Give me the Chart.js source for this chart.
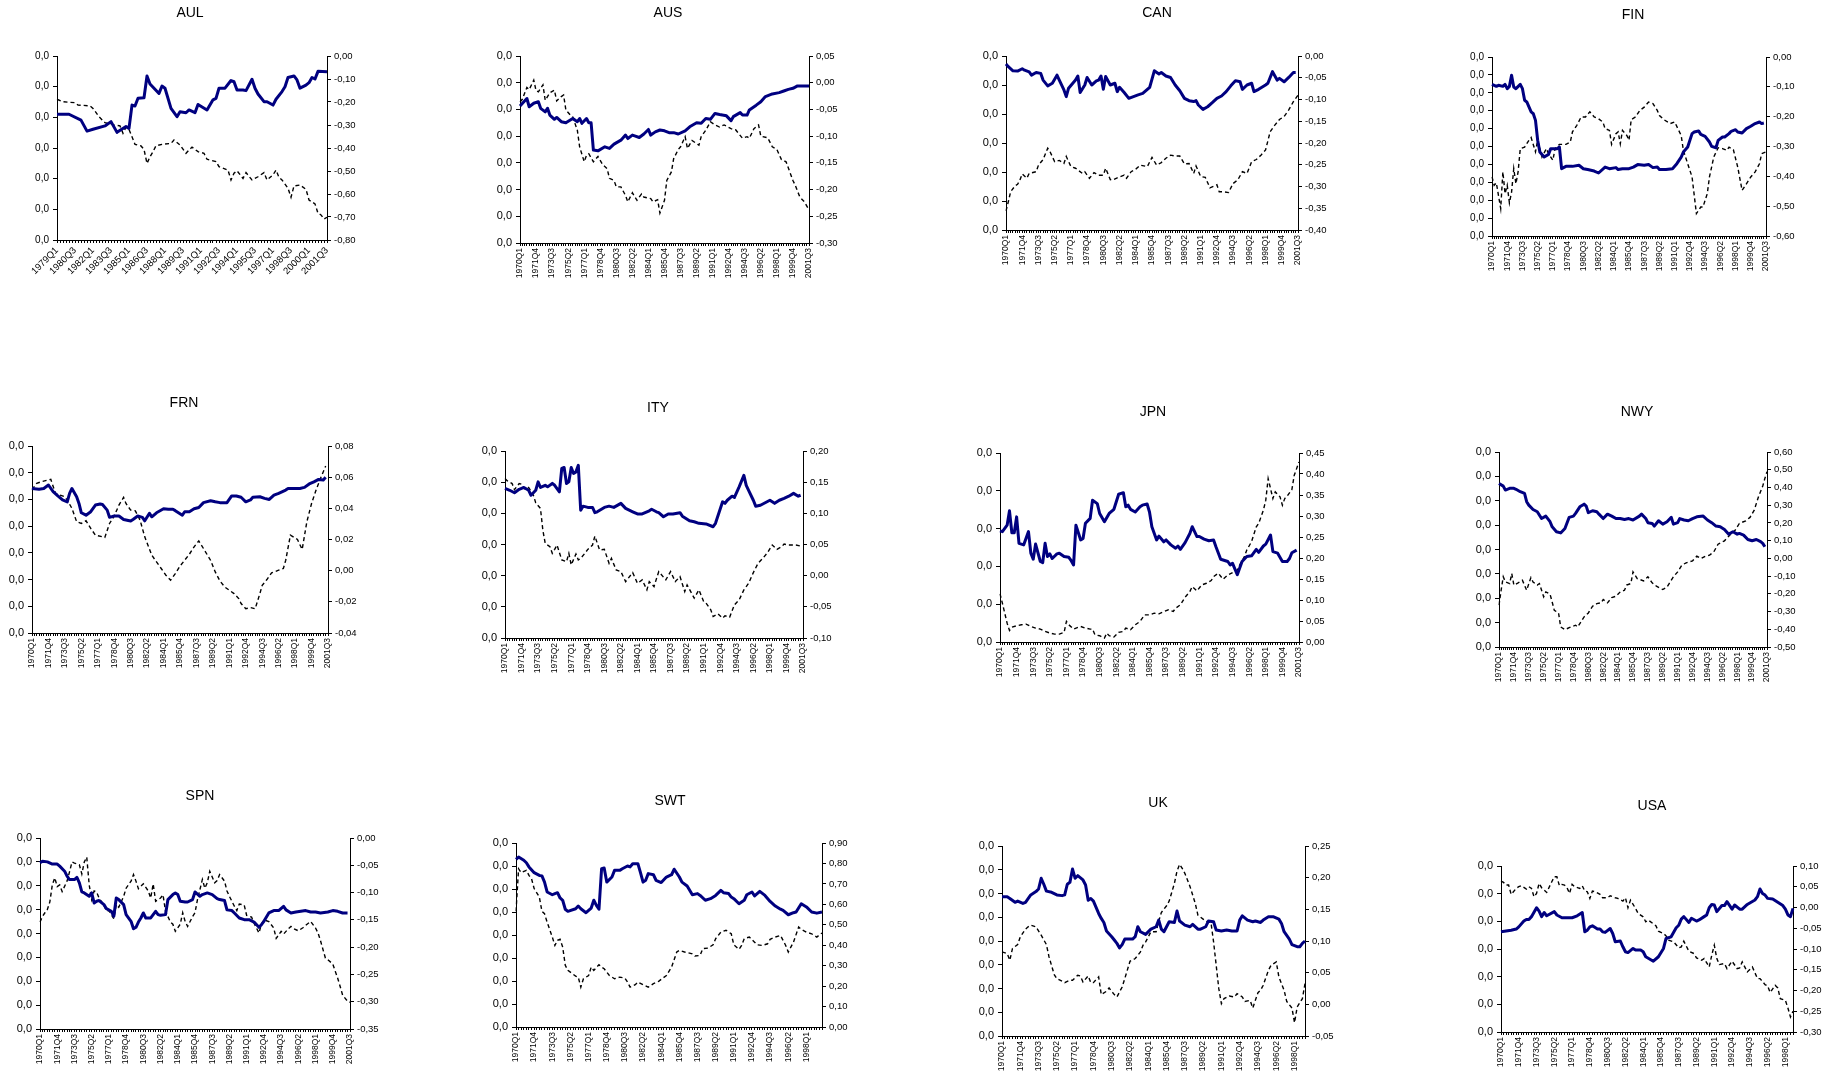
<!DOCTYPE html>
<html>
<head>
<meta charset="utf-8">
<script src="https://cdn.jsdelivr.net/npm/chart.js@4.4.1/dist/chart.umd.min.js"></script>
<style>
html,body{margin:0;padding:0;background:#fff;}
body{position:relative;width:1828px;height:1086px;overflow:hidden;}
canvas{position:absolute;}
</style>
</head>
<body>
<script>
// Each series is a list of [quarter offset from the panel's first quarter, value].
// Left (solid) series use the left axis, right (dashed) series the right axis.

const AUL_L = [[0,0.00410],[4,0.00410],[8,0.00391],[10,0.00355],[12,0.00361],[16,0.00372],[18,0.00386],[20,0.00351],[23,0.00370],[24,0.00364],[25,0.00440],[26,0.00437],[27,0.00462],[29,0.00464],[30,0.00535],[31,0.00509],[34,0.00478],[35,0.00502],[36,0.00495],[38,0.00429],[40,0.00402],[41,0.00418],[43,0.00415],[44,0.00424],[46,0.00415],[47,0.00442],[50,0.00424],[52,0.00457],[53,0.00462],[54,0.00495],[56,0.00495],[58,0.00520],[59,0.00516],[60,0.00489],[62,0.00489],[63,0.00487],[65,0.00524],[66,0.00495],[67,0.00476],[69,0.00451],[70,0.00451],[72,0.00440],[73,0.00459],[75,0.00484],[76,0.00500],[77,0.00530],[79,0.00535],[80,0.00522],[81,0.00495],[83,0.00505],[84,0.00513],[85,0.00530],[86,0.00525],[87,0.00550],[90,0.00549]];
const AUL_R = [[0,-0.188],[2,-0.199],[6,-0.203],[7,-0.213],[11,-0.217],[12,-0.228],[14,-0.264],[16,-0.290],[19,-0.300],[21,-0.304],[22,-0.336],[23,-0.310],[24,-0.319],[25,-0.351],[26,-0.384],[28,-0.391],[29,-0.406],[30,-0.467],[31,-0.438],[32,-0.416],[33,-0.390],[35,-0.384],[38,-0.380],[39,-0.365],[41,-0.387],[43,-0.423],[44,-0.409],[45,-0.396],[47,-0.416],[49,-0.423],[50,-0.449],[53,-0.459],[54,-0.481],[57,-0.496],[58,-0.539],[59,-0.510],[60,-0.499],[62,-0.532],[63,-0.507],[65,-0.539],[67,-0.525],[69,-0.507],[70,-0.539],[72,-0.517],[73,-0.496],[74,-0.528],[75,-0.539],[77,-0.575],[78,-0.614],[79,-0.565],[81,-0.561],[83,-0.580],[84,-0.626],[86,-0.643],[87,-0.684],[88,-0.691],[89,-0.709],[90,-0.701]];

const AUS_L = [[0,0.00513],[3,0.00541],[4,0.00510],[6,0.00523],[8,0.00529],[9,0.00504],[11,0.00491],[12,0.00504],[13,0.00479],[15,0.00463],[16,0.00470],[18,0.00454],[20,0.00450],[23,0.00466],[25,0.00454],[26,0.00466],[27,0.00448],[29,0.00466],[30,0.00450],[31,0.00450],[32,0.00348],[34,0.00345],[37,0.00360],[39,0.00354],[41,0.00370],[44,0.00385],[46,0.00404],[47,0.00391],[49,0.00404],[50,0.00401],[52,0.00395],[54,0.00408],[56,0.00425],[57,0.00404],[59,0.00416],[61,0.00423],[63,0.00420],[65,0.00413],[67,0.00413],[69,0.00408],[72,0.00420],[74,0.00435],[77,0.00450],[79,0.00448],[81,0.00466],[83,0.00463],[85,0.00485],[87,0.00481],[90,0.00476],[92,0.00458],[93,0.00473],[96,0.00488],[97,0.00479],[99,0.00479],[100,0.00498],[103,0.00516],[105,0.00529],[107,0.00548],[110,0.00558],[113,0.00563],[115,0.00569],[117,0.00575],[119,0.00579],[121,0.00588],[123,0.00588],[126,0.00588]];
const AUS_R = [[0,-0.036],[1,-0.031],[3,-0.009],[4,-0.013],[6,0.005],[7,-0.015],[8,-0.017],[10,-0.004],[11,-0.033],[13,-0.019],[15,-0.014],[16,-0.034],[18,-0.026],[19,-0.023],[20,-0.051],[22,-0.061],[23,-0.064],[25,-0.089],[26,-0.120],[28,-0.148],[29,-0.136],[30,-0.133],[32,-0.148],[34,-0.138],[36,-0.153],[38,-0.161],[39,-0.179],[41,-0.183],[42,-0.195],[44,-0.195],[46,-0.211],[47,-0.223],[49,-0.206],[51,-0.220],[53,-0.208],[54,-0.214],[57,-0.217],[58,-0.223],[60,-0.219],[61,-0.244],[63,-0.220],[64,-0.183],[66,-0.167],[67,-0.142],[69,-0.125],[70,-0.120],[72,-0.101],[73,-0.123],[75,-0.108],[78,-0.117],[79,-0.101],[81,-0.089],[83,-0.073],[85,-0.079],[87,-0.083],[89,-0.079],[92,-0.086],[94,-0.088],[97,-0.104],[99,-0.101],[100,-0.104],[102,-0.086],[104,-0.079],[105,-0.100],[108,-0.103],[110,-0.120],[112,-0.125],[114,-0.144],[116,-0.148],[119,-0.183],[120,-0.192],[122,-0.214],[124,-0.223],[126,-0.238]];

const CAN_L = [[0,0.00572],[1,0.00563],[3,0.00549],[5,0.00548],[7,0.00556],[8,0.00551],[10,0.00545],[11,0.00534],[13,0.00543],[15,0.00540],[16,0.00517],[18,0.00497],[20,0.00506],[22,0.00534],[23,0.00517],[25,0.00483],[26,0.00460],[27,0.00489],[29,0.00508],[30,0.00517],[31,0.00531],[32,0.00474],[34,0.00500],[35,0.00526],[37,0.00500],[39,0.00514],[40,0.00517],[41,0.00531],[42,0.00485],[43,0.00529],[45,0.00500],[47,0.00506],[48,0.00477],[49,0.00492],[51,0.00474],[53,0.00454],[55,0.00460],[57,0.00466],[59,0.00471],[61,0.00485],[62,0.00492],[64,0.00549],[66,0.00538],[67,0.00543],[69,0.00531],[71,0.00526],[73,0.00500],[75,0.00480],[77,0.00454],[79,0.00446],[81,0.00443],[82,0.00446],[83,0.00431],[85,0.00416],[87,0.00425],[89,0.00439],[91,0.00454],[93,0.00462],[95,0.00477],[97,0.00497],[99,0.00515],[101,0.00511],[102,0.00485],[104,0.00500],[106,0.00506],[107,0.00477],[109,0.00485],[112,0.00500],[113,0.00506],[115,0.00546],[117,0.00517],[118,0.00523],[120,0.00511],[122,0.00526],[124,0.00543],[125,0.00543]];
const CAN_R = [[0,-0.356],[1,-0.335],[2,-0.312],[4,-0.298],[5,-0.295],[6,-0.285],[7,-0.271],[9,-0.281],[10,-0.270],[13,-0.266],[14,-0.251],[16,-0.238],[18,-0.212],[19,-0.220],[21,-0.243],[23,-0.240],[25,-0.247],[26,-0.231],[28,-0.254],[30,-0.258],[33,-0.270],[34,-0.266],[36,-0.281],[38,-0.268],[40,-0.274],[42,-0.274],[43,-0.258],[45,-0.284],[46,-0.285],[48,-0.280],[51,-0.274],[52,-0.281],[54,-0.266],[56,-0.260],[58,-0.251],[61,-0.254],[63,-0.233],[65,-0.251],[67,-0.245],[69,-0.235],[71,-0.228],[73,-0.230],[75,-0.230],[77,-0.248],[79,-0.247],[81,-0.270],[82,-0.253],[84,-0.277],[86,-0.279],[88,-0.303],[91,-0.296],[92,-0.312],[94,-0.312],[96,-0.314],[98,-0.293],[100,-0.285],[102,-0.266],[104,-0.270],[106,-0.243],[108,-0.238],[110,-0.228],[112,-0.216],[114,-0.174],[116,-0.159],[118,-0.146],[120,-0.139],[122,-0.124],[124,-0.105],[126,-0.090]];

const FIN_L = [[0,0.00847],[2,0.00836],[3,0.00842],[5,0.00836],[6,0.00847],[7,0.00823],[8,0.00836],[9,0.00898],[10,0.00832],[11,0.00823],[13,0.00847],[14,0.00823],[15,0.00758],[16,0.00749],[18,0.00693],[19,0.00683],[20,0.00646],[21,0.00535],[22,0.00469],[24,0.00441],[26,0.00456],[27,0.00488],[30,0.00488],[31,0.00497],[32,0.00376],[34,0.00389],[37,0.00389],[40,0.00395],[42,0.00376],[44,0.00371],[47,0.00363],[49,0.00352],[52,0.00385],[54,0.00376],[57,0.00382],[58,0.00371],[60,0.00376],[63,0.00376],[65,0.00385],[67,0.00399],[70,0.00395],[72,0.00399],[74,0.00382],[76,0.00385],[77,0.00371],[80,0.00371],[83,0.00376],[85,0.00404],[87,0.00441],[88,0.00469],[90,0.00497],[92,0.00572],[93,0.00581],[95,0.00587],[96,0.00568],[98,0.00557],[100,0.00525],[101,0.00501],[103,0.00493],[104,0.00534],[106,0.00553],[107,0.00553],[109,0.00572],[110,0.00585],[112,0.00594],[113,0.00581],[115,0.00575],[117,0.00600],[119,0.00613],[121,0.00628],[123,0.00637],[124,0.00628],[125,0.00631]];
const FIN_R = [[0,-0.402],[1,-0.430],[2,-0.422],[4,-0.508],[5,-0.385],[6,-0.458],[7,-0.430],[8,-0.489],[9,-0.453],[10,-0.374],[11,-0.425],[12,-0.385],[13,-0.307],[15,-0.302],[17,-0.279],[18,-0.270],[20,-0.318],[21,-0.279],[23,-0.335],[25,-0.307],[26,-0.324],[28,-0.346],[29,-0.307],[31,-0.293],[34,-0.293],[36,-0.285],[37,-0.251],[39,-0.229],[41,-0.201],[43,-0.201],[45,-0.184],[47,-0.201],[49,-0.207],[51,-0.218],[52,-0.240],[54,-0.246],[55,-0.293],[57,-0.257],[58,-0.251],[59,-0.291],[60,-0.246],[62,-0.263],[63,-0.279],[64,-0.210],[66,-0.201],[68,-0.179],[70,-0.168],[72,-0.151],[74,-0.156],[76,-0.179],[77,-0.196],[79,-0.210],[82,-0.223],[84,-0.218],[87,-0.263],[88,-0.313],[90,-0.358],[92,-0.402],[93,-0.464],[94,-0.525],[96,-0.503],[97,-0.503],[99,-0.458],[100,-0.402],[102,-0.335],[104,-0.304],[106,-0.307],[108,-0.313],[109,-0.302],[111,-0.311],[113,-0.369],[115,-0.447],[117,-0.425],[119,-0.402],[121,-0.385],[123,-0.358],[124,-0.324],[126,-0.318]];

const FRN_L = [[0,0.00541],[3,0.00538],[5,0.00541],[7,0.00554],[9,0.00529],[11,0.00513],[13,0.00498],[15,0.00491],[16,0.00523],[17,0.00541],[19,0.00510],[20,0.00485],[21,0.00450],[23,0.00441],[25,0.00454],[27,0.00479],[29,0.00483],[30,0.00481],[32,0.00460],[33,0.00433],[35,0.00438],[37,0.00438],[39,0.00425],[42,0.00419],[43,0.00425],[45,0.00438],[47,0.00433],[48,0.00420],[50,0.00448],[51,0.00435],[53,0.00450],[56,0.00465],[58,0.00463],[60,0.00463],[61,0.00458],[64,0.00441],[65,0.00454],[67,0.00454],[69,0.00465],[71,0.00470],[73,0.00488],[76,0.00495],[78,0.00491],[80,0.00488],[83,0.00488],[85,0.00513],[87,0.00513],[89,0.00508],[91,0.00491],[93,0.00498],[94,0.00508],[97,0.00510],[99,0.00504],[101,0.00500],[103,0.00516],[105,0.00523],[108,0.00535],[109,0.00541],[111,0.00541],[114,0.00541],[116,0.00545],[118,0.00558],[120,0.00566],[122,0.00575],[124,0.00573],[125,0.00583]];
const FRN_R = [[0,0.0521],[2,0.0560],[4,0.0571],[8,0.0586],[10,0.0496],[12,0.0485],[14,0.0474],[15,0.0453],[17,0.0400],[19,0.0314],[21,0.0303],[23,0.0320],[25,0.0271],[27,0.0228],[30,0.0217],[31,0.0213],[33,0.0303],[35,0.0350],[37,0.0421],[39,0.0470],[40,0.0431],[42,0.0389],[44,0.0384],[46,0.0324],[48,0.0217],[51,0.0099],[53,0.0056],[55,0.0014],[57,-0.0029],[59,-0.0061],[61,-0.0019],[63,0.0029],[65,0.0067],[67,0.0106],[69,0.0153],[71,0.0191],[73,0.0142],[76,0.0067],[78,-0.0008],[80,-0.0066],[82,-0.0104],[84,-0.0126],[86,-0.0147],[88,-0.0179],[89,-0.0211],[91,-0.0244],[93,-0.0237],[95,-0.0244],[97,-0.0147],[98,-0.0094],[100,-0.0057],[102,-0.0014],[105,0.0003],[107,0.0014],[108,0.0067],[110,0.0228],[113,0.0200],[115,0.0136],[117,0.0314],[119,0.0431],[121,0.0521],[123,0.0599],[125,0.0671]];

const ITY_L = [[0,0.00480],[2,0.00474],[4,0.00466],[6,0.00477],[8,0.00483],[10,0.00474],[11,0.00458],[13,0.00474],[14,0.00501],[15,0.00483],[17,0.00490],[18,0.00485],[20,0.00496],[21,0.00490],[23,0.00469],[24,0.00544],[25,0.00547],[26,0.00496],[27,0.00501],[28,0.00547],[29,0.00528],[30,0.00533],[31,0.00554],[32,0.00410],[33,0.00423],[35,0.00419],[37,0.00419],[38,0.00402],[39,0.00405],[42,0.00419],[44,0.00423],[46,0.00419],[49,0.00432],[51,0.00416],[54,0.00405],[56,0.00398],[58,0.00398],[61,0.00408],[62,0.00413],[64,0.00405],[65,0.00402],[67,0.00389],[69,0.00398],[71,0.00398],[74,0.00402],[75,0.00391],[78,0.00376],[80,0.00373],[82,0.00368],[85,0.00366],[88,0.00357],[89,0.00368],[92,0.00437],[93,0.00432],[94,0.00442],[96,0.00455],[97,0.00451],[99,0.00485],[101,0.00522],[102,0.00490],[103,0.00474],[105,0.00442],[106,0.00423],[108,0.00426],[110,0.00434],[112,0.00442],[114,0.00432],[116,0.00442],[118,0.00448],[120,0.00455],[122,0.00464],[124,0.00455],[125,0.00458]];
const ITY_R = [[0,0.1558],[1,0.1520],[3,0.1478],[4,0.1382],[6,0.1478],[7,0.1467],[8,0.1398],[9,0.1382],[10,0.1414],[12,0.1291],[13,0.1168],[15,0.1078],[16,0.0731],[17,0.0518],[19,0.0465],[20,0.0358],[21,0.0422],[22,0.0491],[24,0.0252],[26,0.0225],[27,0.0358],[28,0.0172],[30,0.0348],[31,0.0252],[32,0.0278],[34,0.0369],[35,0.0422],[37,0.0491],[38,0.0635],[40,0.0412],[42,0.0422],[44,0.0198],[45,0.0278],[47,0.0092],[49,0.0065],[51,-0.0095],[54,0.0049],[56,-0.0122],[58,-0.0068],[60,-0.0228],[61,-0.0095],[63,-0.0175],[65,0.0065],[68,-0.0068],[70,0.0065],[72,-0.0095],[74,-0.0015],[76,-0.0255],[77,-0.0148],[80,-0.0361],[82,-0.0228],[84,-0.0415],[85,-0.0441],[87,-0.0548],[88,-0.0655],[90,-0.0612],[92,-0.0681],[93,-0.0644],[95,-0.0665],[97,-0.0468],[99,-0.0388],[101,-0.0228],[103,-0.0122],[105,0.0049],[107,0.0198],[109,0.0278],[111,0.0369],[113,0.0491],[115,0.0422],[117,0.0465],[118,0.0507],[120,0.0491],[123,0.0491],[125,0.0475]];

const JPN_L = [[0,0.00294],[1,0.00292],[3,0.00309],[4,0.00347],[5,0.00289],[6,0.00289],[7,0.00331],[8,0.00261],[10,0.00257],[12,0.00292],[13,0.00235],[14,0.00219],[15,0.00259],[17,0.00213],[18,0.00210],[19,0.00261],[20,0.00226],[21,0.00233],[22,0.00221],[24,0.00233],[25,0.00235],[27,0.00226],[29,0.00224],[30,0.00215],[31,0.00204],[32,0.00309],[34,0.00270],[35,0.00274],[36,0.00314],[38,0.00327],[39,0.00375],[41,0.00366],[42,0.00340],[44,0.00318],[46,0.00340],[48,0.00351],[49,0.00371],[50,0.00391],[52,0.00395],[53,0.00358],[54,0.00362],[55,0.00351],[57,0.00344],[59,0.00358],[60,0.00362],[62,0.00365],[63,0.00344],[64,0.00305],[66,0.00270],[67,0.00280],[69,0.00265],[70,0.00270],[72,0.00257],[74,0.00248],[75,0.00254],[76,0.00245],[78,0.00263],[80,0.00287],[81,0.00305],[83,0.00279],[84,0.00279],[86,0.00272],[88,0.00268],[90,0.00270],[91,0.00252],[93,0.00219],[95,0.00215],[96,0.00213],[97,0.00204],[98,0.00208],[100,0.00178],[102,0.00213],[104,0.00226],[106,0.00228],[108,0.00245],[109,0.00237],[111,0.00254],[112,0.00259],[114,0.00283],[115,0.00239],[117,0.00235],[119,0.00213],[121,0.00213],[122,0.00221],[123,0.00236],[125,0.00243]];
const JPN_R = [[0,0.1146],[1,0.0924],[3,0.0449],[4,0.0275],[5,0.0354],[7,0.0386],[9,0.0410],[11,0.0426],[13,0.0370],[15,0.0331],[17,0.0307],[19,0.0252],[21,0.0212],[23,0.0188],[25,0.0188],[27,0.0228],[28,0.0489],[29,0.0410],[31,0.0307],[33,0.0354],[34,0.0370],[36,0.0331],[38,0.0307],[39,0.0307],[40,0.0172],[42,0.0149],[44,0.0093],[45,0.0212],[46,0.0149],[48,0.0117],[50,0.0228],[52,0.0252],[53,0.0331],[55,0.0291],[57,0.0410],[59,0.0489],[61,0.0647],[63,0.0647],[65,0.0687],[67,0.0671],[69,0.0726],[71,0.0766],[73,0.0726],[74,0.0805],[76,0.0884],[78,0.1066],[80,0.1201],[81,0.1320],[83,0.1217],[85,0.1359],[87,0.1399],[89,0.1462],[90,0.1557],[92,0.1636],[94,0.1494],[96,0.1597],[98,0.1652],[100,0.1715],[101,0.1834],[103,0.2032],[104,0.2190],[106,0.2388],[108,0.2744],[109,0.2823],[111,0.3139],[112,0.3377],[113,0.3891],[114,0.3653],[115,0.3416],[116,0.3574],[118,0.3456],[119,0.3258],[120,0.3416],[121,0.3472],[123,0.3630],[124,0.3970],[126,0.4286]];

const NWY_L = [[0,0.00671],[2,0.00660],[3,0.00644],[5,0.00651],[7,0.00651],[8,0.00647],[10,0.00637],[12,0.00630],[13,0.00596],[14,0.00582],[16,0.00564],[18,0.00555],[20,0.00527],[22,0.00537],[24,0.00514],[25,0.00493],[27,0.00473],[29,0.00468],[31,0.00486],[33,0.00532],[35,0.00537],[36,0.00548],[38,0.00575],[40,0.00586],[41,0.00578],[42,0.00551],[44,0.00559],[46,0.00555],[47,0.00545],[49,0.00527],[51,0.00545],[53,0.00537],[55,0.00527],[57,0.00527],[59,0.00523],[61,0.00527],[63,0.00521],[66,0.00537],[67,0.00545],[69,0.00527],[70,0.00510],[72,0.00507],[73,0.00496],[75,0.00518],[77,0.00504],[79,0.00514],[81,0.00532],[82,0.00504],[84,0.00510],[85,0.00527],[87,0.00521],[89,0.00518],[91,0.00527],[93,0.00534],[96,0.00537],[98,0.00521],[100,0.00510],[102,0.00496],[104,0.00493],[106,0.00482],[108,0.00463],[110,0.00473],[112,0.00463],[113,0.00466],[115,0.00459],[117,0.00441],[119,0.00436],[121,0.00441],[123,0.00432],[124,0.00425],[125,0.00411]];
const NWY_R = [[0,-0.264],[1,-0.180],[2,-0.104],[3,-0.133],[5,-0.142],[6,-0.086],[7,-0.151],[9,-0.138],[11,-0.123],[13,-0.180],[15,-0.108],[16,-0.133],[18,-0.151],[19,-0.142],[21,-0.217],[22,-0.189],[24,-0.202],[25,-0.246],[26,-0.293],[28,-0.308],[29,-0.387],[31,-0.402],[33,-0.391],[36,-0.377],[37,-0.387],[38,-0.368],[40,-0.330],[42,-0.308],[44,-0.270],[46,-0.255],[48,-0.251],[49,-0.232],[51,-0.251],[53,-0.221],[55,-0.214],[57,-0.189],[59,-0.180],[60,-0.151],[62,-0.142],[63,-0.076],[65,-0.114],[68,-0.127],[70,-0.104],[72,-0.138],[74,-0.157],[77,-0.176],[79,-0.161],[80,-0.142],[82,-0.104],[84,-0.076],[86,-0.038],[88,-0.025],[91,-0.014],[93,0.012],[95,-0.001],[97,0.012],[99,0.018],[101,0.037],[103,0.080],[106,0.099],[107,0.112],[109,0.137],[111,0.159],[113,0.197],[116,0.212],[118,0.231],[120,0.272],[122,0.348],[124,0.408],[125,0.451],[126,0.489]];

const SPN_L = [[0,0.00696],[1,0.00703],[3,0.00700],[5,0.00691],[7,0.00691],[8,0.00682],[10,0.00661],[11,0.00640],[12,0.00626],[14,0.00626],[15,0.00635],[16,0.00612],[17,0.00574],[18,0.00570],[20,0.00556],[21,0.00570],[22,0.00528],[23,0.00535],[24,0.00538],[26,0.00521],[27,0.00504],[29,0.00493],[30,0.00472],[31,0.00549],[32,0.00542],[34,0.00521],[35,0.00479],[37,0.00451],[38,0.00420],[39,0.00426],[40,0.00448],[41,0.00465],[42,0.00486],[43,0.00465],[45,0.00465],[47,0.00493],[48,0.00479],[49,0.00476],[51,0.00479],[52,0.00542],[54,0.00563],[55,0.00570],[56,0.00563],[57,0.00535],[59,0.00532],[60,0.00532],[62,0.00542],[63,0.00574],[65,0.00556],[66,0.00563],[68,0.00570],[70,0.00563],[72,0.00546],[73,0.00542],[75,0.00538],[76,0.00499],[78,0.00496],[79,0.00486],[81,0.00465],[83,0.00458],[85,0.00458],[87,0.00448],[89,0.00426],[90,0.00437],[91,0.00451],[93,0.00486],[95,0.00496],[97,0.00496],[99,0.00514],[100,0.00499],[102,0.00486],[104,0.00490],[106,0.00493],[108,0.00496],[110,0.00490],[112,0.00490],[114,0.00486],[117,0.00490],[119,0.00496],[121,0.00493],[123,0.00486],[125,0.00486]];
const SPN_R = [[0,-0.154],[1,-0.144],[2,-0.137],[3,-0.131],[4,-0.117],[5,-0.086],[6,-0.073],[7,-0.089],[8,-0.086],[9,-0.098],[11,-0.079],[12,-0.062],[13,-0.044],[14,-0.046],[16,-0.049],[17,-0.066],[18,-0.044],[19,-0.035],[20,-0.086],[21,-0.113],[22,-0.097],[23,-0.099],[24,-0.110],[26,-0.123],[27,-0.134],[28,-0.133],[30,-0.148],[31,-0.122],[32,-0.127],[34,-0.107],[35,-0.092],[37,-0.079],[38,-0.067],[39,-0.079],[40,-0.093],[42,-0.084],[44,-0.097],[45,-0.110],[46,-0.084],[47,-0.116],[49,-0.110],[50,-0.104],[51,-0.134],[53,-0.154],[54,-0.158],[55,-0.171],[57,-0.158],[58,-0.137],[59,-0.153],[60,-0.162],[62,-0.144],[63,-0.137],[64,-0.113],[66,-0.076],[67,-0.092],[68,-0.082],[69,-0.061],[71,-0.082],[72,-0.078],[73,-0.067],[75,-0.079],[76,-0.097],[77,-0.107],[79,-0.125],[80,-0.133],[81,-0.121],[83,-0.123],[84,-0.142],[86,-0.145],[87,-0.156],[89,-0.174],[90,-0.158],[91,-0.150],[93,-0.153],[95,-0.165],[96,-0.184],[98,-0.171],[99,-0.176],[101,-0.166],[102,-0.162],[103,-0.166],[105,-0.170],[107,-0.164],[108,-0.160],[110,-0.153],[112,-0.165],[113,-0.174],[114,-0.188],[116,-0.220],[117,-0.223],[119,-0.231],[121,-0.257],[122,-0.272],[123,-0.288],[125,-0.299],[126,-0.301]];

const SWT_L = [[0,0.00729],[1,0.00739],[3,0.00725],[4,0.00714],[5,0.00696],[7,0.00671],[9,0.00659],[10,0.00657],[11,0.00630],[12,0.00587],[14,0.00575],[15,0.00580],[16,0.00584],[17,0.00561],[18,0.00551],[19,0.00512],[20,0.00503],[23,0.00514],[24,0.00526],[25,0.00514],[27,0.00497],[28,0.00507],[29,0.00517],[30,0.00551],[31,0.00529],[32,0.00512],[33,0.00688],[34,0.00691],[35,0.00630],[37,0.00652],[38,0.00681],[40,0.00681],[41,0.00688],[43,0.00700],[44,0.00696],[45,0.00710],[47,0.00710],[48,0.00671],[49,0.00630],[50,0.00638],[51,0.00667],[53,0.00662],[54,0.00638],[56,0.00628],[58,0.00652],[59,0.00657],[60,0.00662],[61,0.00686],[63,0.00652],[64,0.00630],[66,0.00613],[68,0.00575],[70,0.00580],[71,0.00572],[73,0.00551],[75,0.00558],[77,0.00572],[79,0.00594],[80,0.00584],[82,0.00580],[83,0.00565],[84,0.00558],[86,0.00536],[88,0.00551],[89,0.00575],[91,0.00587],[92,0.00570],[94,0.00590],[96,0.00572],[98,0.00546],[100,0.00526],[102,0.00512],[103,0.00507],[105,0.00488],[107,0.00497],[108,0.00500],[110,0.00536],[112,0.00522],[114,0.00500],[116,0.00495],[118,0.00500]];
const SWT_R = [[0,0.566],[1,0.774],[2,0.755],[4,0.766],[5,0.742],[6,0.725],[7,0.677],[9,0.636],[10,0.566],[11,0.554],[12,0.513],[14,0.440],[15,0.399],[16,0.424],[17,0.429],[18,0.391],[19,0.302],[20,0.277],[23,0.249],[24,0.244],[25,0.195],[26,0.236],[28,0.252],[29,0.293],[30,0.277],[32,0.305],[33,0.293],[34,0.285],[36,0.252],[37,0.244],[38,0.236],[40,0.244],[42,0.239],[43,0.220],[44,0.195],[46,0.207],[47,0.220],[49,0.207],[51,0.195],[53,0.212],[55,0.223],[56,0.233],[58,0.252],[60,0.293],[62,0.367],[63,0.375],[65,0.367],[68,0.358],[69,0.347],[71,0.350],[72,0.383],[74,0.386],[76,0.402],[77,0.432],[79,0.464],[81,0.473],[83,0.456],[84,0.402],[86,0.380],[87,0.399],[88,0.432],[90,0.440],[92,0.415],[93,0.402],[95,0.399],[97,0.407],[98,0.429],[100,0.440],[102,0.448],[104,0.399],[105,0.367],[107,0.415],[109,0.489],[110,0.477],[112,0.464],[114,0.456],[116,0.440],[118,0.460]];

const UK_L = [[0,0.00586],[2,0.00586],[3,0.00579],[5,0.00563],[6,0.00568],[8,0.00558],[9,0.00563],[11,0.00594],[13,0.00608],[14,0.00619],[15,0.00664],[16,0.00639],[17,0.00610],[19,0.00605],[21,0.00594],[23,0.00591],[24,0.00594],[25,0.00639],[26,0.00647],[27,0.00703],[28,0.00664],[29,0.00675],[31,0.00657],[32,0.00636],[33,0.00572],[34,0.00579],[35,0.00568],[37,0.00516],[38,0.00495],[39,0.00478],[40,0.00442],[42,0.00418],[43,0.00404],[44,0.00390],[45,0.00371],[46,0.00385],[47,0.00408],[48,0.00408],[50,0.00408],[51,0.00418],[52,0.00460],[53,0.00439],[55,0.00428],[57,0.00450],[59,0.00460],[60,0.00488],[61,0.00450],[62,0.00439],[64,0.00481],[66,0.00478],[67,0.00526],[68,0.00484],[70,0.00467],[72,0.00460],[73,0.00470],[75,0.00450],[76,0.00450],[78,0.00460],[79,0.00484],[81,0.00481],[82,0.00446],[84,0.00442],[86,0.00446],[88,0.00442],[90,0.00442],[91,0.00488],[92,0.00506],[94,0.00488],[96,0.00481],[97,0.00484],[99,0.00478],[100,0.00488],[102,0.00502],[104,0.00502],[106,0.00492],[107,0.00474],[108,0.00439],[110,0.00408],[111,0.00385],[113,0.00376],[114,0.00376],[115,0.00390],[116,0.00400]];
const UK_R = [[0,0.0828],[2,0.0802],[3,0.0696],[4,0.0881],[6,0.0944],[7,0.1065],[9,0.1187],[10,0.1224],[11,0.1250],[13,0.1224],[15,0.1092],[17,0.0944],[18,0.0749],[20,0.0469],[21,0.0406],[23,0.0364],[24,0.0343],[26,0.0380],[27,0.0380],[29,0.0459],[30,0.0448],[31,0.0353],[33,0.0448],[34,0.0343],[35,0.0343],[37,0.0433],[38,0.0153],[40,0.0206],[41,0.0258],[43,0.0153],[44,0.0116],[46,0.0274],[47,0.0406],[49,0.0680],[51,0.0723],[53,0.0828],[54,0.0934],[55,0.0986],[57,0.1145],[59,0.1145],[60,0.1313],[61,0.1450],[63,0.1556],[64,0.1630],[66,0.1909],[67,0.2104],[68,0.2210],[69,0.2147],[70,0.2068],[72,0.1857],[74,0.1593],[75,0.1408],[77,0.1345],[78,0.1313],[80,0.1292],[81,0.0986],[82,0.0617],[83,0.0248],[84,0.0011],[85,0.0090],[87,0.0132],[89,0.0116],[90,0.0169],[92,0.0116],[93,0.0047],[95,0.0063],[96,-0.0058],[98,0.0185],[99,0.0222],[100,0.0301],[102,0.0538],[103,0.0617],[105,0.0670],[106,0.0433],[108,0.0222],[109,0.0047],[111,-0.0058],[112,-0.0290],[113,-0.0042],[115,0.0090],[116,0.0327]];

const USA_L = [[0,0.00362],[2,0.00365],[4,0.00368],[6,0.00372],[7,0.00380],[9,0.00401],[10,0.00407],[11,0.00407],[12,0.00417],[14,0.00449],[15,0.00437],[16,0.00417],[17,0.00432],[18,0.00420],[21,0.00435],[22,0.00423],[24,0.00413],[26,0.00413],[28,0.00413],[30,0.00420],[32,0.00432],[33,0.00362],[34,0.00368],[35,0.00380],[36,0.00384],[38,0.00372],[39,0.00372],[40,0.00362],[41,0.00360],[43,0.00374],[44,0.00356],[45,0.00326],[47,0.00329],[48,0.00308],[49,0.00290],[50,0.00287],[52,0.00302],[53,0.00296],[55,0.00296],[56,0.00290],[57,0.00272],[60,0.00256],[62,0.00272],[64,0.00302],[65,0.00338],[67,0.00344],[69,0.00377],[70,0.00386],[71,0.00408],[72,0.00417],[74,0.00396],[75,0.00411],[77,0.00401],[78,0.00405],[80,0.00417],[81,0.00423],[82,0.00449],[83,0.00461],[84,0.00459],[85,0.00435],[87,0.00457],[88,0.00457],[89,0.00471],[91,0.00444],[92,0.00459],[94,0.00444],[95,0.00444],[97,0.00461],[100,0.00477],[101,0.00489],[102,0.00517],[103,0.00501],[104,0.00495],[105,0.00483],[107,0.00481],[109,0.00469],[111,0.00457],[112,0.00444],[113,0.00423],[114,0.00417],[115,0.00447]];
const USA_R = [[0,0.0638],[1,0.0605],[2,0.0541],[3,0.0541],[4,0.0316],[6,0.0461],[7,0.0501],[8,0.0525],[10,0.0444],[11,0.0501],[12,0.0461],[13,0.0259],[14,0.0340],[15,0.0581],[16,0.0477],[18,0.0364],[20,0.0622],[21,0.0742],[22,0.0742],[23,0.0525],[24,0.0557],[25,0.0541],[26,0.0477],[27,0.0340],[28,0.0557],[29,0.0501],[31,0.0461],[32,0.0525],[33,0.0396],[34,0.0380],[35,0.0219],[36,0.0396],[37,0.0380],[39,0.0316],[40,0.0235],[42,0.0235],[43,0.0283],[45,0.0235],[46,0.0219],[48,0.0155],[49,0.0235],[50,-0.0006],[51,0.0179],[53,-0.0023],[54,-0.0143],[56,-0.0224],[57,-0.0345],[58,-0.0304],[61,-0.0441],[62,-0.0570],[64,-0.0626],[65,-0.0683],[66,-0.0787],[68,-0.0828],[70,-0.0973],[71,-0.0948],[72,-0.0812],[74,-0.1053],[76,-0.1110],[77,-0.1214],[79,-0.1271],[80,-0.1230],[82,-0.1432],[83,-0.1150],[84,-0.0908],[85,-0.1230],[86,-0.1375],[88,-0.1351],[89,-0.1472],[91,-0.1295],[93,-0.1472],[94,-0.1456],[95,-0.1311],[97,-0.1552],[99,-0.1432],[101,-0.1713],[102,-0.1713],[104,-0.1858],[105,-0.1890],[106,-0.2050],[108,-0.1874],[109,-0.1939],[110,-0.2196],[112,-0.2237],[113,-0.2422],[114,-0.2639],[115,-0.2502]];

// Quarter categories per panel: first year, first quarter, number of quarters, label spacing
const AUL_Q = [1979, 1, 91, 6];
const STD_Q = [1970, 1, 127, 7];
const SWT_Q = [1970, 1, 119, 7];
const UK_Q  = [1970, 1, 117, 7];
const USA_Q = [1970, 1, 116, 7];

// Left axis: ticks every 0.001 from 0 (shown with one decimal); right axis: [min, max, step]
const LEFT_STEP = 0.001;

const PANELS = [
  {title:'AUL', q:AUL_Q, L:AUL_L, R:AUL_R, nL:6,  rAx:[-0.80,0.00,0.10], box:[57,56,327,240],    tp:[190,13],  rot:45, xf:9.5, lf:10},
  {title:'AUS', q:STD_Q, L:AUS_L, R:AUS_R, nL:7,  rAx:[-0.30,0.05,0.05], box:[520,56,809,243],   tp:[668,13],  rot:90, xf:8.5, lf:11},
  {title:'CAN', q:STD_Q, L:CAN_L, R:CAN_R, nL:6,  rAx:[-0.40,0.00,0.05], box:[1006,56,1298,230], tp:[1157,13], rot:90, xf:8.5, lf:11},
  {title:'FIN', q:STD_Q, L:FIN_L, R:FIN_R, nL:10, rAx:[-0.60,0.00,0.10], box:[1492,57,1766,236], tp:[1633,15], rot:90, xf:8.5, lf:10},
  {title:'FRN', q:STD_Q, L:FRN_L, R:FRN_R, nL:7,  rAx:[-0.04,0.08,0.02], box:[32,446,328,633],   tp:[184,403], rot:90, xf:8.5, lf:11},
  {title:'ITY', q:STD_Q, L:ITY_L, R:ITY_R, nL:6,  rAx:[-0.10,0.20,0.05], box:[505,451,803,638],  tp:[658,408], rot:90, xf:8.5, lf:11},
  {title:'JPN', q:STD_Q, L:JPN_L, R:JPN_R, nL:5,  rAx:[0.00,0.45,0.05],  box:[1000,453,1299,642],tp:[1153,412],rot:90, xf:8.5, lf:11},
  {title:'NWY', q:STD_Q, L:NWY_L, R:NWY_R, nL:8,  rAx:[-0.50,0.60,0.10], box:[1499,452,1767,647],tp:[1637,412],rot:90, xf:8.5, lf:11},
  {title:'SPN', q:STD_Q, L:SPN_L, R:SPN_R, nL:8,  rAx:[-0.35,0.00,0.05], box:[40,838,350,1029],  tp:[200,796], rot:90, xf:8.5, lf:11},
  {title:'SWT', q:SWT_Q, L:SWT_L, R:SWT_R, nL:8,  rAx:[0.00,0.90,0.10],  box:[516,843,822,1027], tp:[670,801], rot:90, xf:8.5, lf:11},
  {title:'UK',  q:UK_Q,  L:UK_L,  R:UK_R,  nL:8,  rAx:[-0.05,0.25,0.05], box:[1002,846,1305,1036],tp:[1158,803],rot:90, xf:8.5, lf:11},
  {title:'USA', q:USA_Q, L:USA_L, R:USA_R, nL:6,  rAx:[-0.30,0.10,0.05], box:[1501,866,1793,1032],tp:[1652,806],rot:90, xf:8.5, lf:11}
];

const FONT = "'Liberation Sans', Arial, Helvetica, sans-serif";
const MARGIN = {l: 60, r: 60, t: 70, b: 60};

function quarterLabels(year, q, n) {
  const out = [];
  for (let i = 0; i < n; i++) {
    out.push(year + 'Q' + q);
    q++;
    if (q > 4) { q = 1; year++; }
  }
  return out;
}

function comma(v, digits) {
  if (Math.abs(v) < 1e-12) v = 0;
  return v.toFixed(digits).replace('.', ',');
}

// Panel title drawn at a fixed spot above the plot
const panelTitle = {
  id: 'panelTitle',
  afterDraw(chart, args, opts) {
    const ctx = chart.ctx;
    ctx.save();
    ctx.font = opts.size + 'px ' + FONT;
    ctx.fillStyle = '#000';
    ctx.textAlign = 'center';
    ctx.textBaseline = 'middle';
    ctx.fillText(opts.text, opts.x, opts.y);
    ctx.restore();
  }
};

PANELS.forEach(p => {
  const [L, T, R, B] = p.box;
  const W = R - L + MARGIN.l + MARGIN.r;
  const H = B - T + MARGIN.t + MARGIN.b;
  const cx = L - MARGIN.l, cy = T - MARGIN.t;

  const cv = document.createElement('canvas');
  cv.width = W; cv.height = H;
  cv.style.left = cx + 'px'; cv.style.top = cy + 'px';
  cv.style.width = W + 'px'; cv.style.height = H + 'px';
  document.body.appendChild(cv);

  const labels = quarterLabels(p.q[0], p.q[1], p.q[2]);
  const every = p.q[3];
  const pts = arr => arr.map(([k, v]) => ({x: labels[k], y: v}));
  const axisFont = size => ({family: FONT, size: size});

  new Chart(cv, {
    type: 'line',
    data: {
      labels: labels,
      datasets: [
        {data: pts(p.L), yAxisID: 'yL', borderColor: '#000080', borderWidth: 3,
         pointRadius: 0, tension: 0, fill: false, borderJoinStyle: 'round'},
        {data: pts(p.R), yAxisID: 'yR', borderColor: '#000', borderWidth: 1.4,
         borderDash: [4, 3], pointRadius: 0, tension: 0, fill: false}
      ]
    },
    options: {
      responsive: false,
      animation: false,
      devicePixelRatio: 1,
      layout: {padding: {top: MARGIN.t, left: 0, right: 0, bottom: 0}},
      plugins: {
        legend: {display: false},
        tooltip: {enabled: false},
        panelTitle: {text: p.title, x: p.tp[0] - cx, y: p.tp[1] - cy, size: 14}
      },
      scales: {
        x: {
          type: 'category',
          offset: false,
          grid: {display: true, drawOnChartArea: false, drawTicks: true, tickLength: 3, color: '#000'},
          border: {display: true, color: '#000', width: 1},
          ticks: {
            autoSkip: false, minRotation: p.rot, maxRotation: p.rot, padding: 2,
            color: '#000', font: axisFont(p.xf),
            callback: (v, i) => (i % every === 0 ? labels[i] : '')
          },
          afterFit: s => { s.height = MARGIN.b; }
        },
        yL: {
          position: 'left',
          min: 0, max: p.nL * LEFT_STEP,
          grid: {display: true, drawOnChartArea: false, drawTicks: true, tickLength: 4, color: '#000'},
          border: {display: true, color: '#000', width: 1},
          ticks: {stepSize: LEFT_STEP, padding: 4, color: '#000', font: axisFont(p.lf),
                  callback: v => comma(v, 1)},
          afterFit: s => { s.width = MARGIN.l; }
        },
        yR: {
          position: 'right',
          min: p.rAx[0], max: p.rAx[1],
          grid: {display: true, drawOnChartArea: false, drawTicks: true, tickLength: 4, color: '#000'},
          border: {display: true, color: '#000', width: 1},
          ticks: {stepSize: p.rAx[2], padding: 3, color: '#000', font: axisFont(9.5),
                  callback: v => comma(v, 2)},
          afterFit: s => { s.width = MARGIN.r; }
        }
      }
    },
    plugins: [panelTitle]
  });
});
</script>
</body>
</html>
